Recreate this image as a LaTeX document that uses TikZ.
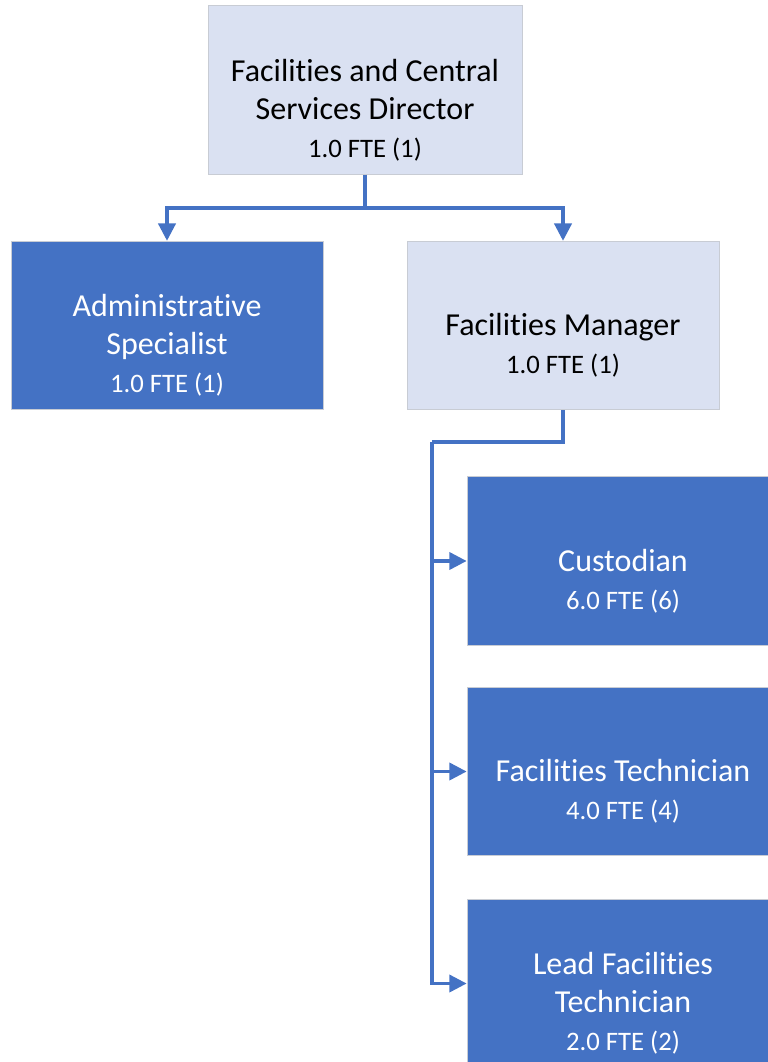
\documentclass[tikz,border=0pt]{standalone}
\usepackage{fontspec}
\setmainfont[Ligatures=NoCommon]{Carlito}
\usetikzlibrary{arrows.meta}
\definecolor{accent}{HTML}{4472C4}
\definecolor{lightfill}{HTML}{DAE1F2}
\definecolor{edgegray}{HTML}{C8CCD4}
\begin{document}
\begin{tikzpicture}[x=0.75pt,y=-0.75pt,
  box/.style={rectangle,draw=edgegray,line width=0.6pt,minimum width=234pt,minimum height=126.5pt,inner sep=0pt},
  lightbox/.style={box,fill=lightfill},
  darkbox/.style={box,fill=accent},
  txt/.style={align=center,inner sep=0pt,font=\fontsize{24}{28.5}\selectfont},
  lighttxt/.style={txt,text=black},
  darktxt/.style={txt,text=white},
  conn/.style={draw=accent,line width=2.3pt},
  arr/.style={conn,-{Triangle[width=13pt,length=13pt]}}]
\newcommand{\fte}[1]{{\fontsize{20}{28.5}\selectfont #1}}
\useasboundingbox (0,0) rectangle (767,1062);

% boxes
\node[lightbox,minimum width=235.5pt] (dir) at (365,90) {};
\node[darkbox] (adm) at (167,325.5) {};
\node[lightbox] (mgr) at (563,325.5) {};
\node[darkbox] (cus) at (623,561) {};
\node[darkbox] (tec) at (623,771.5) {};
\node[darkbox] (led) at (623,983.5) {};

% labels
\node[lighttxt] (dirt) at ([yshift=-15pt]dir.center) {Facilities and Central\\Services Director\\\fte{1.0 FTE (1)}};
\node[darktxt] (admt) at ([yshift=-15pt]adm.center) {Administrative\\Specialist\\\fte{1.0 FTE (1)}};
\node[lighttxt] (mgrt) at ([yshift=-15pt]mgr.center) {Facilities Manager\\\fte{1.0 FTE (1)}};
\node[darktxt] (cust) at ([yshift=-15pt]cus.center) {Custodian\\\fte{6.0 FTE (6)}};
\node[darktxt] (tect) at ([yshift=-15pt]tec.center) {Facilities Technician\\\fte{4.0 FTE (4)}};
\node[darktxt] (ledt) at ([yshift=-15pt]led.center) {Lead Facilities\\Technician\\\fte{2.0 FTE (2)}};

% connectors
\coordinate (j1) at (365,208);
\coordinate (j2) at (432,442);
\draw[conn] (dir.south) -- (j1);
\draw[arr] (j1) -| (adm.north);
\draw[arr] (j1) -| (mgr.north);
\draw[conn] (mgr.south) |- (j2);
\draw[arr] (j2) |- (cus.west);
\draw[arr] (j2) |- (tec.west);
\draw[arr] (j2) |- (led.west);
\end{tikzpicture}
\end{document}
